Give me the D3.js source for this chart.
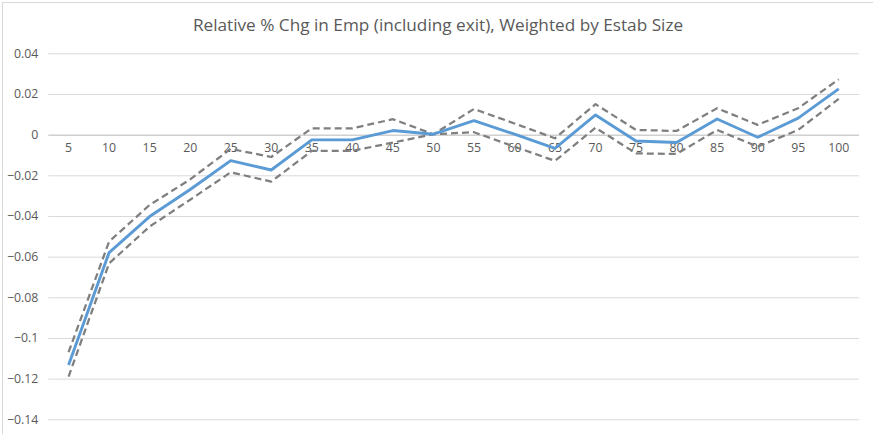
<!DOCTYPE html>
<html>
<head>
<meta charset="utf-8">
<script src="https://cdn.jsdelivr.net/npm/d3@7"></script>
<style>
  html, body { margin: 0; padding: 0; background: #fff; }
  svg { display: block; }
  text { font-family: "Open Sans", "Liberation Sans", sans-serif; fill: #595959; }
</style>
</head>
<body>
<svg id="chart" width="873" height="434"></svg>
<script>
// Establishment size percentiles
const categories = ["5","10","15","20","25","30","35","40","45","50",
                    "55","60","65","70","75","80","85","90","95","100"];

// Point estimate of relative % change in employment
const estimate = [-0.1133, -0.0580, -0.0403, -0.0270, -0.0128, -0.0174, -0.0026, -0.0026, 0.0020, 0.0002,
                  0.0069, 0.0002, -0.0067, 0.0097, -0.0031, -0.0039, 0.0077, -0.0013, 0.0081, 0.0225];

// Upper and lower confidence bounds
const upper = [-0.1070, -0.0526, -0.0346, -0.0220, -0.0070, -0.0110, 0.0031, 0.0031, 0.0076, 0.0002,
               0.0126, 0.0055, -0.0018, 0.0150, 0.0023, 0.0018, 0.0130, 0.0048, 0.0130, 0.0272];
const lower = [-0.1190, -0.0633, -0.0452, -0.0320, -0.0185, -0.0231, -0.0080, -0.0080, -0.0039, 0.0002,
               0.0012, -0.0059, -0.0129, 0.0034, -0.0092, -0.0095, 0.0023, -0.0059, 0.0023, 0.0176];

const yTicks = [0.04, 0.02, 0, -0.02, -0.04, -0.06, -0.08, -0.1, -0.12, -0.14];
const chartTitle = "Relative % Chg in Emp (including exit), Weighted by Estab Size";

const svg = d3.select("#chart");
const W = 873, H = 434;
const plot = { left: 48.3, right: 859, top: 53.3, bottom: 419.3 };

// Outer chart frame
svg.append("rect")
  .attr("x", 2.5).attr("y", 2.5)
  .attr("width", W + 20).attr("height", H + 20)
  .attr("fill", "none").attr("stroke", "#d9d9d9").attr("stroke-width", 1);

// Title
svg.append("text")
  .attr("x", 438).attr("y", 31)
  .attr("text-anchor", "middle")
  .attr("font-size", 17.2)
  .text(chartTitle);

const x = d3.scaleBand().domain(categories).range([plot.left, plot.right]);
const y = d3.scaleLinear().domain([-0.14, 0.04]).range([plot.bottom, plot.top]);

// Horizontal gridlines and value labels
const yAxis = d3.axisLeft(y)
  .tickValues(yTicks)
  .tickSize(-(plot.right - plot.left))
  .tickPadding(11)
  .tickFormat(d => d3.format("")(+d.toFixed(2)));

const gy = svg.append("g")
  .attr("transform", `translate(${plot.left},0)`)
  .call(yAxis);
gy.select(".domain").remove();
gy.selectAll(".tick line")
  .attr("stroke", d => d === 0 ? "#d0d0d0" : "#d9d9d9")
  .attr("stroke-width", d => d === 0 ? 1.5 : 1);
gy.selectAll(".tick text")
  .attr("font-size", 12.3)
  .attr("fill", "#595959")
  .attr("x", -10)
  .style("font-family", "\"Open Sans\", sans-serif");

// Category axis sitting on the zero line
const xAxis = d3.axisBottom(x).tickSize(0).tickPadding(9);
const gx = svg.append("g")
  .attr("transform", `translate(0,${y(0)})`)
  .call(xAxis);
gx.select(".domain").remove();
gx.selectAll(".tick text")
  .attr("font-size", 12.3)
  .attr("fill", "#595959")
  .style("font-family", "\"Open Sans\", sans-serif");

const line = d3.line()
  .x((d, i) => x(categories[i]) + x.bandwidth() / 2)
  .y(d => y(d));

// Confidence bounds (dashed)
[upper, lower].forEach(series => {
  svg.append("path")
    .datum(series)
    .attr("d", line)
    .attr("fill", "none")
    .attr("stroke", "#7f7f7f")
    .attr("stroke-width", 2.25)
    .attr("stroke-dasharray", "7,4")
    .attr("stroke-linejoin", "round");
});

// Point estimate
svg.append("path")
  .datum(estimate)
  .attr("d", line)
  .attr("fill", "none")
  .attr("stroke", "#5b9bd5")
  .attr("stroke-width", 2.9)
  .attr("stroke-linejoin", "round");
</script>
</body>
</html>
